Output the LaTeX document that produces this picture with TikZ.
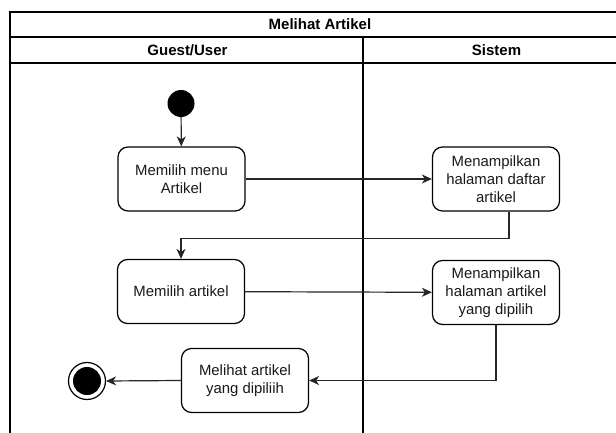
\documentclass[tikz,border=0pt]{standalone}
\usepackage{fontspec}
\setmainfont{Liberation Sans}
\usetikzlibrary{arrows.meta}

\tikzset{
  lane/.style={draw=black, line width=1.2pt},
  action/.style={draw=black, line width=1.2pt, rounded corners=10pt, fill=white,
    minimum width=127pt, minimum height=64pt, align=center, inner sep=2pt,
    text=black!90, font=\fontsize{14.9}{18.3}\selectfont},
  flow/.style={draw=black!85, line width=1.2pt,
    -{Stealth[length=10pt,width=9pt,inset=3pt]}},
  heading/.style={font=\bfseries\fontsize{15}{17}\selectfont, text=black}
}

\begin{document}
\begin{tikzpicture}[x=1pt, y=-1pt]
  \useasboundingbox (0,0) rectangle (616,433);
  \fill[white] (0,0) rectangle (616,433);

  % swimlane frame
  \draw[lane] (10,433) -- (10,12) -- (616,12);
  \draw[lane] (10,37) -- (616,37);
  \draw[lane] (10,63) -- (616,63);
  \draw[lane] (363,37) -- (363,433);

  \node[heading] (title) at (320,24.5) {Melihat Artikel};
  \node[heading] (guest) at (187.5,50) {Guest/User};
  \node[heading] (sys) at (496.5,50) {Sistem};

  % activities
  \node[circle, fill=black, minimum size=27pt, inner sep=0pt] (start) at (181,103.5) {};
  \node[action] (a1) at (181.5,179) {Memilih menu\\Artikel};
  \node[action] (s1) at (496,179) {Menampilkan\\halaman daftar\\artikel};
  \node[action] (a2) at (181,291.5) {Memilih artikel};
  \node[action] (s2) at (496,292.5) {Menampilkan\\halaman artikel\\yang dipilih};
  \node[action] (a3) at (245,380.5) {Melihat artikel\\yang dipiliih};
  \node[circle, draw=black, line width=1.2pt, minimum size=37pt, inner sep=0pt] (stop) at (87,381) {};
  \fill[black] (stop.center) circle (14pt);

  % control flow
  \draw[flow] (start) -- (a1);
  \draw[flow] (a1) -- (s1);
  \draw[flow] ([xshift=13pt]s1.south) -- ++(0,27) -| (a2.north);
  \draw[flow] (a2) -- (s2);
  \draw[flow] (s2.south) |- (a3.east);
  \draw[flow] (a3.west) -- (stop.east);
\end{tikzpicture}
\end{document}
